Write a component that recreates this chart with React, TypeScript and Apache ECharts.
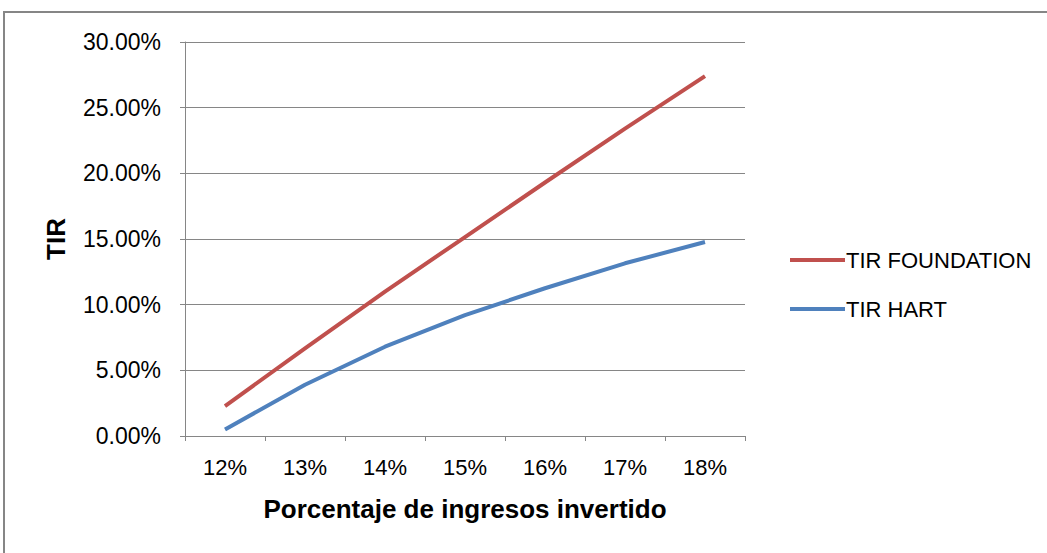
import React, { useEffect, useRef } from "react";
import * as echarts from "echarts";

const categories = ["12%", "13%", "14%", "15%", "16%", "17%", "18%"];
const tirFoundation = [2.28, 6.67, 11.0, 15.15, 19.3, 23.4, 27.4];
const tirHart = [0.5, 3.9, 6.8, 9.2, 11.25, 13.15, 14.77];
const yTicks = { min: 0, max: 30, interval: 5 };

const FONT = "'Liberation Sans Narrow', 'Liberation Sans', Arial, sans-serif";
const FONT_BOLD = "'Liberation Sans', Arial, sans-serif";

export default function App() {
  const ref = useRef<HTMLDivElement>(null);
  useEffect(() => {
    if (!ref.current) return;
    const chart = echarts.init(ref.current, null, { renderer: "svg" });
    chart.setOption({
      animation: false,
      backgroundColor: "#fff",
      graphic: [
        {
          type: "rect",
          shape: { x: 4, y: 12, width: 1100, height: 600 },
          style: { fill: "none", stroke: "#868686", lineWidth: 2 },
          silent: true,
        },
      ],
      grid: { left: 185, right: 302, top: 42, bottom: 117 },
      legend: {
        orient: "vertical",
        left: 785,
        top: 244,
        itemWidth: 55,
        itemHeight: 4,
        itemGap: 27,
        icon: "rect",
        textStyle: { fontFamily: FONT, fontSize: 22, color: "#000", padding: [0, 0, 0, -4] },
        data: ["TIR FOUNDATION", "TIR HART"],
      },
      xAxis: {
        type: "category",
        data: categories,
        boundaryGap: true,
        name: "Porcentaje de ingresos invertido",
        nameLocation: "middle",
        nameGap: 60,
        nameTextStyle: { fontFamily: FONT_BOLD, fontWeight: "bold", fontSize: 26, color: "#000" },
        axisLine: { lineStyle: { color: "#868686", width: 1 } },
        axisTick: { show: true, length: 5, lineStyle: { color: "#868686" } },
        axisLabel: { fontFamily: FONT, fontSize: 22, color: "#000", margin: 20 },
        splitLine: { show: false },
      },
      yAxis: {
        type: "value",
        min: yTicks.min,
        max: yTicks.max,
        interval: yTicks.interval,
        name: "TIR",
        nameLocation: "middle",
        nameGap: 116,
        nameTextStyle: { fontFamily: FONT_BOLD, fontWeight: "bold", fontSize: 26, color: "#000" },
        axisLine: { show: true, lineStyle: { color: "#868686", width: 1 } },
        axisTick: { show: true, length: 5, inside: false, lineStyle: { color: "#868686" } },
        axisLabel: {
          fontFamily: FONT,
          fontSize: 23,
          color: "#000",
          margin: 24,
          formatter: (v: number) => v.toFixed(2) + "%",
        },
        splitLine: { show: true, lineStyle: { color: "#868686", width: 1 } },
      },
      series: [
        {
          name: "TIR FOUNDATION",
          type: "line",
          data: tirFoundation,
          showSymbol: false,
          symbol: "none",
          lineStyle: { color: "#C0504D", width: 4 },
          itemStyle: { color: "#C0504D" },
        },
        {
          name: "TIR HART",
          type: "line",
          data: tirHart,
          showSymbol: false,
          symbol: "none",
          lineStyle: { color: "#4F81BD", width: 4 },
          itemStyle: { color: "#4F81BD" },
        },
      ],
    });
    return () => chart.dispose();
  }, []);
  return (
    <div
      ref={ref}
      style={{ position: "fixed", left: 0, top: 0, width: 1047, height: 553 }}
    />
  );
}
